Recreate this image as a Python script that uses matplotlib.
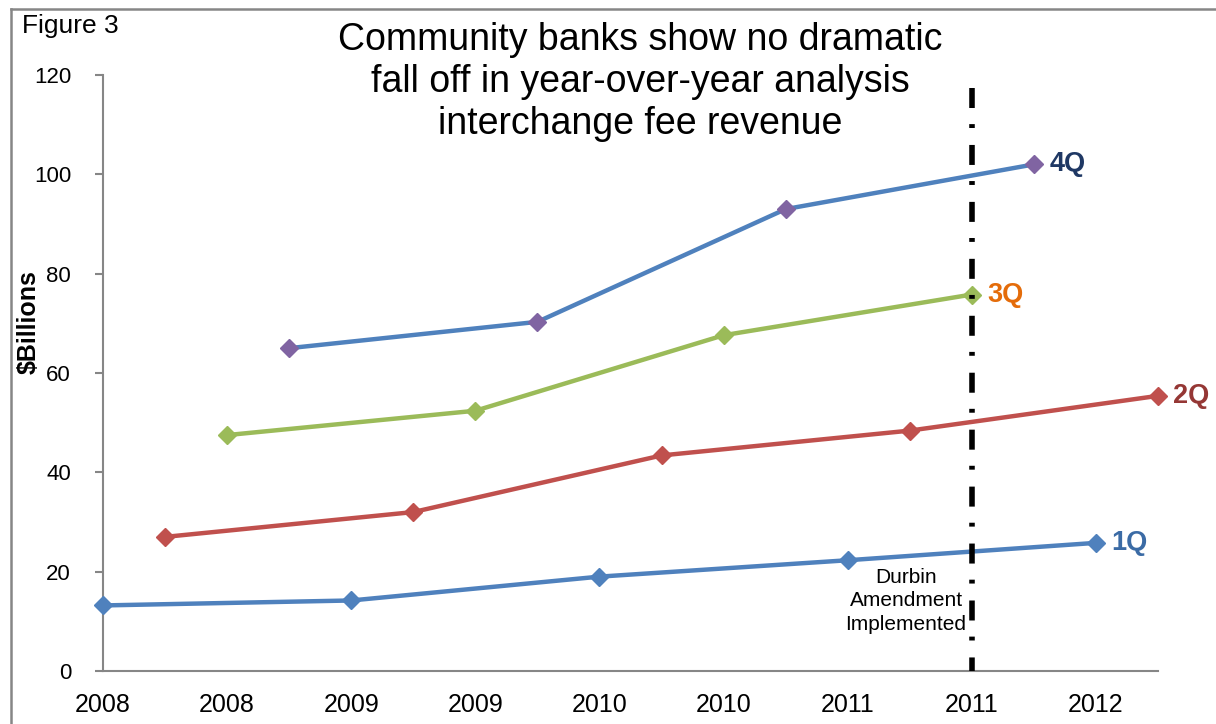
import matplotlib
matplotlib.use('Agg')
import matplotlib.pyplot as plt
from matplotlib.lines import Line2D

plt.rcParams['font.family'] = ['Liberation Sans', 'DejaVu Sans']

# tick labels along the x axis (one per category slot)
year_labels = ['2008', '2008', '2009', '2009', '2010', '2010', '2011', '2011', '2012']

# quarterly series: position on the category axis and value ($ billions)
q1_x = [0, 2, 4, 6, 8]
q1_y = [13.2, 14.2, 19.0, 22.3, 25.8]
q2_x = [0.5, 2.5, 4.5, 6.5, 8.5]
q2_y = [27.0, 32.0, 43.4, 48.4, 55.4]
q3_x = [1, 3, 5, 7]
q3_y = [47.5, 52.4, 67.6, 75.8]
q4_x = [1.5, 3.5, 5.5, 7.5]
q4_y = [65.0, 70.3, 93.0, 102.0]

durbin_x = 7
durbin_top = 117.4

fig = plt.figure(figsize=(12.16, 7.24), dpi=100)
ax = fig.add_axes([103 / 1216, 1 - 671 / 724, (1158 - 103) / 1216, (671 - 75) / 724])

series = [
    (q1_x, q1_y, '#4F81BD', '#4F81BD', '1Q', '#3B6BA5'),
    (q2_x, q2_y, '#C0504D', '#C0504D', '2Q', '#953735'),
    (q3_x, q3_y, '#9BBB59', '#9BBB59', '3Q', '#E46C0A'),
    (q4_x, q4_y, '#4F81BD', '#8064A2', '4Q', '#1F3864'),
]
for xs, ys, lc, mc, name, tc in series:
    ax.plot(xs, ys, color=lc, lw=3.2, marker='D', ms=9, mfc=mc, mec=mc,
            clip_on=False, zorder=3)
    ax.annotate(name, (xs[-1], ys[-1]), xytext=(11, 0), textcoords='offset points',
                ha='left', va='center', fontsize=19.5, fontweight='bold', color=tc,
                annotation_clip=False)

# Durbin Amendment marker line, drawn top-down so the dash pattern starts at the top
ax.plot([durbin_x, durbin_x], [durbin_top, 0], color='black', lw=4,
        linestyle=(0, (3.6, 2.9, 0.7, 3.05)), clip_on=False, zorder=4)
ax.text(6.47, 20.8, 'Durbin\nAmendment\nImplemented', ha='center', va='top',
        fontsize=15, linespacing=1.3)

ax.set_xlim(0, 8.5)
ax.set_ylim(0, 120)
ax.set_xticks(range(len(year_labels)))
ax.set_xticklabels(year_labels, fontsize=18)
ax.set_yticks(range(0, 121, 20))
ax.tick_params(axis='y', labelsize=16, length=6, width=1.5, color='#868686', pad=17)
ax.tick_params(axis='x', length=0, pad=16)

for side in ['top', 'right']:
    ax.spines[side].set_visible(False)
for side in ['left', 'bottom']:
    ax.spines[side].set_color('#868686')
    ax.spines[side].set_linewidth(1.5)

ax.set_ylabel('$Billions', fontsize=18, fontweight='bold')
ax.yaxis.set_label_coords(-0.059, 0.586)

fig.text(640 / 1216, 1 - 22 / 724,
         'Community banks show no dramatic\nfall off in year-over-year analysis\ninterchange fee revenue',
         ha='center', va='top', fontsize=27, linespacing=1.22)
fig.text(22 / 1216, 1 - 26 / 724, 'Figure 3', ha='left', va='center', fontsize=19)

# outer frame of the exhibit
fig.add_artist(Line2D([11 / 1216, 11 / 1216], [0, 1 - 9 / 724], color='#868686', lw=1.8,
                      transform=fig.transFigure))
fig.add_artist(Line2D([11 / 1216, 1], [1 - 9 / 724, 1 - 9 / 724], color='#868686', lw=1.8,
                      transform=fig.transFigure))

fig.savefig('out.png', dpi=100)
